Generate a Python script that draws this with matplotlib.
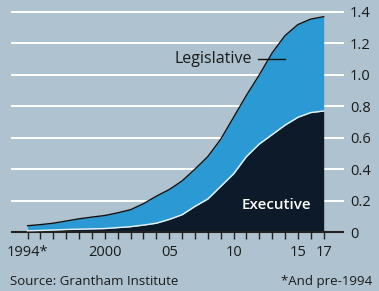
import matplotlib.pyplot as plt
import numpy as np

years = np.arange(1994, 2018)
total = [0.04, 0.047, 0.056, 0.07, 0.084, 0.095, 0.105, 0.122, 0.142, 0.18,
         0.228, 0.27, 0.325, 0.40, 0.48, 0.59, 0.73, 0.87, 1.0, 1.14,
         1.25, 1.32, 1.355, 1.37]
executive = [0.008, 0.01, 0.013, 0.016, 0.018, 0.02, 0.022, 0.028, 0.034, 0.044,
             0.056, 0.08, 0.11, 0.163, 0.21, 0.29, 0.37, 0.48, 0.56, 0.62,
             0.68, 0.73, 0.76, 0.77]
xtick_pos = [1994, 2000, 2005, 2010, 2015, 2017]
xtick_labels = ["1994*", "2000", "05", "10", "15", "17"]
yticks = [0, 0.2, 0.4, 0.6, 0.8, 1.0, 1.2, 1.4]
ytick_labels = ["0", "0.2", "0.4", "0.6", "0.8", "1.0", "1.2", "1.4"]

bg = "#aec3cf"
blue = "#2b9ad4"
dark = "#0d1a2a"
txt = "#1a1a1a"

plt.rcParams["font.family"] = ["Open Sans", "DejaVu Sans"]

fig = plt.figure(figsize=(3.79, 2.91), dpi=100, facecolor=bg)
ax = fig.add_axes([0.032, 0.2027, 0.873, 0.7561], facecolor=bg)

ax.set_xlim(1992.8, 2018.5)
ax.set_ylim(0, 1.4)

for v in yticks[1:]:
    ax.axhline(v, color="white", lw=1.4, zorder=1, clip_on=False)

ax.fill_between(years, 0, executive, color=dark, lw=0, zorder=2)
ax.fill_between(years, executive, total, color=blue, lw=0, zorder=2)
ax.plot(years, executive, color="#e8f2f8", lw=1.0, zorder=3)
ax.plot(years, total, color="#111111", lw=1.0, zorder=3)

for s in ["top", "left", "right"]:
    ax.spines[s].set_visible(False)
ax.spines["bottom"].set_color("#222222")
ax.spines["bottom"].set_linewidth(1.5)

ax.set_xticks(xtick_pos)
ax.set_xticklabels(xtick_labels)
ax.set_xticks(years, minor=True)
ax.tick_params(axis="x", which="both", direction="out", length=5, width=1,
               color="#222222", labelsize=10.5, labelcolor=txt, pad=4)

ax.yaxis.tick_right()
ax.set_yticks(yticks)
ax.set_yticklabels(ytick_labels)
ax.tick_params(axis="y", length=0, pad=5, labelsize=10.5, labelcolor=txt)

ax.text(2011.4, 1.10, "Legislative", ha="right", va="center",
        fontsize=11.5, color=txt)
ax.plot([2011.9, 2014.0], [1.10, 1.10], color="#111111", lw=1, zorder=4)
ax.text(2013.3, 0.175, "Executive", ha="center", va="center",
        fontsize=11, color="white", fontweight="semibold")

fig.text(0.026, 0.012, "Source: Grantham Institute", ha="left", va="bottom",
         fontsize=9.5, color=txt)
fig.text(0.982, 0.012, "*And pre-1994", ha="right", va="bottom",
         fontsize=9.5, color=txt)

fig.savefig("out.png", dpi=100, facecolor=bg)
